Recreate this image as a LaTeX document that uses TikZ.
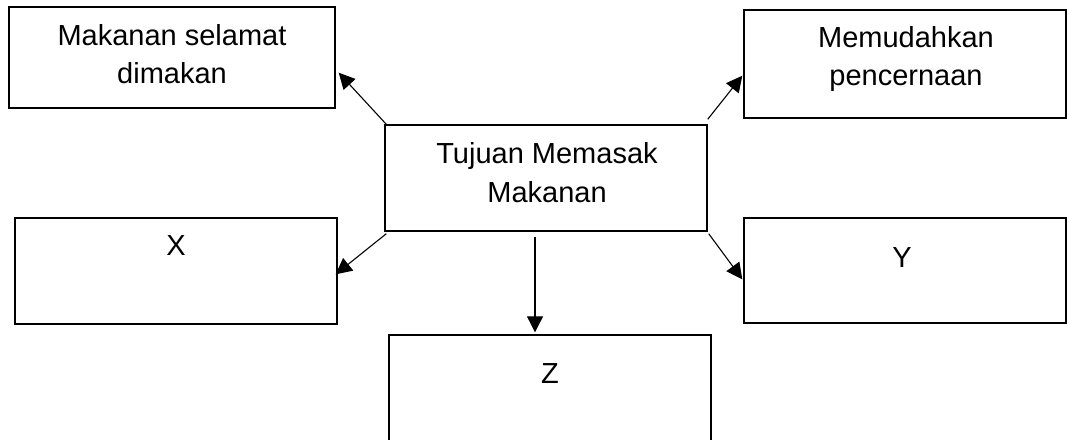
\documentclass[tikz,border=0pt]{standalone}
\usepackage{fontspec}
\setmainfont{Liberation Sans}
\usetikzlibrary{arrows.meta,calc}
\begin{document}
\begin{tikzpicture}[x=1pt,y=-1pt,
  box/.style={draw=black,line width=1.4pt,inner sep=0pt,fill=none},
  lbl/.style={anchor=base,inner sep=0pt,font=\fontsize{29}{35}\selectfont},
  conn/.style={draw=black,line width=1.1pt,-{Triangle[length=16pt,width=16pt]}}]
\useasboundingbox (0,0) rectangle (1067,439);
\clip (0,0) rectangle (1067,439);
% boxes
\node[box,minimum width=326pt,minimum height=101pt] (tl) at (172,57.5) {};
\node[box,minimum width=322pt,minimum height=108pt] (tr) at (905,64) {};
\node[box,minimum width=322pt,minimum height=106pt] (c) at (546,178) {};
\node[box,minimum width=322pt,minimum height=106pt] (ml) at (176,271) {};
\node[box,minimum width=322pt,minimum height=105pt] (mr) at (905,270.5) {};
\node[box,minimum width=322pt,minimum height=114pt] (z) at (550,392) {};
% texts
\node[lbl] (tl1) at (172,45) {Makanan selamat};
\node[lbl] (tl2) at (172,83) {dimakan};
\node[lbl] (tr1) at (906,47) {Memudahkan};
\node[lbl] (tr2) at (906,85) {pencernaan};
\node[lbl] (c1) at (547,163) {Tujuan Memasak};
\node[lbl] (c2) at (547,202) {Makanan};
\node[lbl] (xl) at (176,255) {X};
\node[lbl] (yl) at (902,267) {Y};
\node[lbl] (zl) at (550,383) {Z};
% connectors
\draw[conn] ($(c.north west)+(2,0)$) -- ($(tl.south east)+(3,-36)$);
\draw[conn] ($(c.north east)+(0,-5)$) -- ($(tr.south west)+(-1,-43)$);
\draw[conn] ($(c.south west)+(2,2)$) -- ($(ml.north east)+(-2,57)$);
\draw[conn] ($(c.south east)+(1,2)$) -- ($(mr.north west)+(-1,62)$);
\draw[conn] ($(c.south)+(-11,5)$) -- ($(z.north)+(-15,-2)$);
\end{tikzpicture}
\end{document}
